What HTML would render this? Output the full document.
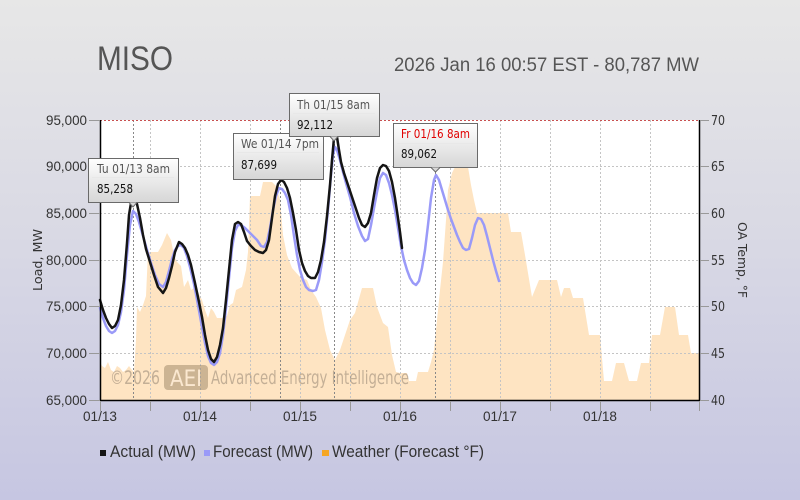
<!DOCTYPE html>
<html><head><meta charset="utf-8"><style>
html,body{margin:0;padding:0;width:800px;height:500px;overflow:hidden;}
svg{display:block;}
</style></head><body>
<svg width="800" height="500" viewBox="0 0 800 500" xmlns="http://www.w3.org/2000/svg">
<defs>
<linearGradient id="bg" x1="0" y1="0" x2="0" y2="1">
<stop offset="0" stop-color="#e7e7e7"/>
<stop offset="0.5" stop-color="#d8d8e4"/>
<stop offset="1" stop-color="#c6c6e2"/>
</linearGradient>
<linearGradient id="tt" x1="0" y1="0" x2="0" y2="1">
<stop offset="0" stop-color="#ffffff"/>
<stop offset="1" stop-color="#d6d6d6"/>
</linearGradient>
</defs>
<rect x="0" y="0" width="800" height="500" fill="url(#bg)"/>

<!-- Title -->
<text x="97" y="70" font-family="Liberation Sans Narrow, Liberation Sans, sans-serif" font-size="34" fill="#555" textLength="76" lengthAdjust="spacingAndGlyphs">MISO</text>
<text x="394" y="71" font-family="Liberation Sans Narrow, Liberation Sans, sans-serif" font-size="19" fill="#555" textLength="305" lengthAdjust="spacingAndGlyphs">2026 Jan 16 00:57 EST - 80,787 MW</text>

<!-- plot bg -->
<rect x="100" y="120" width="600" height="280" fill="#ffffff"/>

<!-- weather fill -->
<polygon fill="#fee4c2" points="100,400 100,362 102,366 105,368 108,362 111,370 114,372 117,366 120,368 123,372 126,370 129,366 132,370 134,372 136,340 137,307 140,312 143,305 146,296 148,252 158,252 162,245 167,233 171,240 174,255 177,262 181,266 184,287 188,280 191,290 194,288 198,292 202,300 205,310 208,318 211,308 214,312 217,318 222,318 227,316 230,305 233,303 236,290 242,287 246,270 248,252 250,196 260,196 263,182 272,182 276,186 280,200 283,235 287,255 292,268 300,277 307,280 311,290 316,297 321,308 325,330 330,350 335,360 340,350 345,335 350,320 355,313 362,288 373,288 377,307 383,323 388,327 392,355 396,372 400,373 407,373 409,381 416,381 418,372 428,372 431,362 434,350 437,320 440,290 443,262 446,220 448,190 452,173 455,167 468,167 471,185 474,200 477,213 508,213 511,232 521,232 525,255 532,297 539,280 557,280 561,297 564,288 570,288 573,298 583,298 589,335 600,335 604,381 612,381 616,363 624,363 629,381 637,381 641,363 649,363 652,335 660,335 665,307 675,307 679,335 688,335 691,353 700,353 700,400"/>

<!-- grid -->
<g stroke="#c4c4c4" stroke-width="1" stroke-dasharray="2,2" fill="none">
<line x1="100" y1="166.5" x2="700" y2="166.5"/>
<line x1="100" y1="213.5" x2="700" y2="213.5"/>
<line x1="100" y1="260.5" x2="700" y2="260.5"/>
<line x1="100" y1="306.5" x2="700" y2="306.5"/>
<line x1="100" y1="353.5" x2="700" y2="353.5"/>
<line x1="150.5" y1="120" x2="150.5" y2="400"/>
<line x1="200.5" y1="120" x2="200.5" y2="400"/>
<line x1="250.5" y1="120" x2="250.5" y2="400"/>
<line x1="300.5" y1="120" x2="300.5" y2="400"/>
<line x1="350.5" y1="120" x2="350.5" y2="400"/>
<line x1="400.5" y1="120" x2="400.5" y2="400"/>
<line x1="450.5" y1="120" x2="450.5" y2="400"/>
<line x1="500.5" y1="120" x2="500.5" y2="400"/>
<line x1="550.5" y1="120" x2="550.5" y2="400"/>
<line x1="600.5" y1="120" x2="600.5" y2="400"/>
<line x1="650.5" y1="120" x2="650.5" y2="400"/>
</g>
<!-- crosshairs -->
<g stroke="#888" stroke-width="1" stroke-dasharray="2,2" fill="none">
<line x1="133.5" y1="120" x2="133.5" y2="400"/>
<line x1="280.5" y1="120" x2="280.5" y2="400"/>
<line x1="334.5" y1="120" x2="334.5" y2="400"/>
<line x1="435.5" y1="120" x2="435.5" y2="400"/>
</g>
<!-- top red dotted -->
<line x1="100" y1="120.5" x2="700" y2="120.5" stroke="#c85050" stroke-width="1" stroke-dasharray="2,2"/>

<!-- watermark -->
<g font-family="DejaVu Sans, Liberation Sans, sans-serif" opacity="0.9">
<text x="110" y="384" font-size="19" fill="#6e6256" fill-opacity="0.45" textLength="50" lengthAdjust="spacingAndGlyphs">©2026</text>
<rect x="164" y="365" width="44" height="25" rx="4" fill="#7a6446" fill-opacity="0.42"/>
<text x="170" y="386" font-size="22" fill="#fbe9d2" textLength="32" lengthAdjust="spacingAndGlyphs">AEI</text>
<text x="211" y="384" font-size="19" fill="#6e6256" fill-opacity="0.45" textLength="198" lengthAdjust="spacingAndGlyphs">Advanced Energy Intelligence</text>
</g>

<!-- forecast -->
<polyline fill="none" stroke="#9a9af8" stroke-width="2.5" stroke-linejoin="round" stroke-linecap="round" points="100,308 103,318 106,326 109,331 112,333 115,331 118,325 121,312 124,290 127,255 130,225 133,211 136,214 139,222 143,236 147,250 151,263 155,275 159,284 163,287 166,282 169,271 172,259 175,250 178,246 181,245 184,248 187,256 190,267 194,284 198,305 202,327 205,343 208,356 211,363 214,365 217,362 220,353 223,335 226,308 229,278 232,248 235,231 238,225 241,225 245,228 249,232 253,236 257,240 261,246 264,247 267,242 270,228 273,210 276,196 279,188 282,189 285,193 288,200 291,215 294,236 297,255 300,270 303,280 306,287 309,290 313,291 316,290 319,280 322,262 325,240 328,210 331,175 333,155 335,147 337,150 340,160 343,172 346,183 350,197 354,213 358,226 362,236 365,241 368,239 371,225 374,208 377,192 380,178 383,173 386,175 389,183 392,195 395,210 398,228 401,246 404,260 407,270 410,278 413,283 416,285 419,281 422,268 425,250 428,225 431,198 434,180 436,175 439,180 442,190 445,200 448,210 451,219 454,227 457,235 460,242 463,248 466,250 469,249 472,238 475,225 478,218 481,219 484,225 487,236 490,248 493,260 496,271 499,281"/>

<!-- actual -->
<polyline fill="none" stroke="#151515" stroke-width="2.5" stroke-linejoin="round" stroke-linecap="round" points="100,300 103,310 106,318 109,324 112,328 115,326 118,320 121,305 124,280 127,243 129,215 131,203 134,198 137,204 140,218 143,235 146,249 150,262 154,275 158,287 163,293 166,288 169,278 172,266 175,252 179,242 182,244 185,248 188,255 191,265 195,283 199,302 202,317 205,335 208,350 211,359 214,362 217,357 220,345 223,328 226,300 229,270 232,240 235,224 238,222 241,224 244,232 247,241 251,246 255,250 259,252 263,253 266,250 269,240 272,218 275,196 278,184 281,180 284,182 287,188 290,198 293,213 296,230 299,250 302,263 305,271 308,276 311,278 315,278 318,272 321,260 324,242 327,216 330,185 332,160 334,138 335,131 337,137 339,150 341,162 344,173 347,182 350,191 353,200 356,209 359,218 362,225 365,227 368,223 371,213 374,195 377,178 380,168 383,165 386,166 389,171 392,182 395,198 398,218 400,232 402,248"/>

<!-- axes -->
<g stroke="#000" stroke-width="1.5">
<line x1="100.5" y1="120" x2="100.5" y2="401"/>
<line x1="699.5" y1="120" x2="699.5" y2="401"/>
<line x1="100" y1="400.5" x2="700" y2="400.5"/>
</g>
<g stroke="#999" stroke-width="1">
<line x1="89" y1="120.5" x2="100" y2="120.5"/>
<line x1="89" y1="166.5" x2="100" y2="166.5"/>
<line x1="89" y1="213.5" x2="100" y2="213.5"/>
<line x1="89" y1="260.5" x2="100" y2="260.5"/>
<line x1="89" y1="306.5" x2="100" y2="306.5"/>
<line x1="89" y1="353.5" x2="100" y2="353.5"/>
<line x1="89" y1="400.5" x2="100" y2="400.5"/>
<line x1="700" y1="120.5" x2="709" y2="120.5"/>
<line x1="700" y1="166.5" x2="709" y2="166.5"/>
<line x1="700" y1="213.5" x2="709" y2="213.5"/>
<line x1="700" y1="260.5" x2="709" y2="260.5"/>
<line x1="700" y1="306.5" x2="709" y2="306.5"/>
<line x1="700" y1="353.5" x2="709" y2="353.5"/>
<line x1="700" y1="400.5" x2="709" y2="400.5"/>
<line x1="100.5" y1="401" x2="100.5" y2="411"/>
<line x1="150.5" y1="401" x2="150.5" y2="411"/>
<line x1="200.5" y1="401" x2="200.5" y2="411"/>
<line x1="250.5" y1="401" x2="250.5" y2="411"/>
<line x1="300.5" y1="401" x2="300.5" y2="411"/>
<line x1="350.5" y1="401" x2="350.5" y2="411"/>
<line x1="400.5" y1="401" x2="400.5" y2="411"/>
<line x1="450.5" y1="401" x2="450.5" y2="411"/>
<line x1="500.5" y1="401" x2="500.5" y2="411"/>
<line x1="550.5" y1="401" x2="550.5" y2="411"/>
<line x1="600.5" y1="401" x2="600.5" y2="411"/>
<line x1="650.5" y1="401" x2="650.5" y2="411"/>
<line x1="699.5" y1="401" x2="699.5" y2="411"/>
</g>

<!-- left labels -->
<g font-family="Liberation Sans Narrow, Liberation Sans, sans-serif" font-size="14" fill="#333">
<text x="46" y="125" textLength="41" lengthAdjust="spacingAndGlyphs">95,000</text>
<text x="46" y="171" textLength="41" lengthAdjust="spacingAndGlyphs">90,000</text>
<text x="46" y="218" textLength="41" lengthAdjust="spacingAndGlyphs">85,000</text>
<text x="46" y="265" textLength="41" lengthAdjust="spacingAndGlyphs">80,000</text>
<text x="46" y="311" textLength="41" lengthAdjust="spacingAndGlyphs">75,000</text>
<text x="46" y="358" textLength="41" lengthAdjust="spacingAndGlyphs">70,000</text>
<text x="46" y="405" textLength="41" lengthAdjust="spacingAndGlyphs">65,000</text>
</g>
<g font-family="DejaVu Sans, Liberation Sans, sans-serif" font-size="13" fill="#333">
<text x="711" y="125" textLength="14" lengthAdjust="spacingAndGlyphs">70</text>
<text x="711" y="171" textLength="14" lengthAdjust="spacingAndGlyphs">65</text>
<text x="711" y="218" textLength="14" lengthAdjust="spacingAndGlyphs">60</text>
<text x="711" y="265" textLength="14" lengthAdjust="spacingAndGlyphs">55</text>
<text x="711" y="311" textLength="14" lengthAdjust="spacingAndGlyphs">50</text>
<text x="711" y="358" textLength="14" lengthAdjust="spacingAndGlyphs">45</text>
<text x="711" y="405" textLength="14" lengthAdjust="spacingAndGlyphs">40</text>
</g>
<g font-family="Liberation Sans Narrow, Liberation Sans, sans-serif" font-size="14" fill="#333">
<text x="83" y="421" textLength="34" lengthAdjust="spacingAndGlyphs">01/13</text>
<text x="183" y="421" textLength="34" lengthAdjust="spacingAndGlyphs">01/14</text>
<text x="283" y="421" textLength="34" lengthAdjust="spacingAndGlyphs">01/15</text>
<text x="383" y="421" textLength="34" lengthAdjust="spacingAndGlyphs">01/16</text>
<text x="483" y="421" textLength="34" lengthAdjust="spacingAndGlyphs">01/17</text>
<text x="583" y="421" textLength="34" lengthAdjust="spacingAndGlyphs">01/18</text>
</g>
<text transform="translate(42,260) rotate(-90)" text-anchor="middle" font-family="DejaVu Sans, Liberation Sans, sans-serif" font-size="12" fill="#333" textLength="62" lengthAdjust="spacingAndGlyphs">Load, MW</text>
<text transform="translate(738,260) rotate(90)" text-anchor="middle" font-family="DejaVu Sans, Liberation Sans, sans-serif" font-size="12" fill="#333" textLength="76" lengthAdjust="spacingAndGlyphs">OA Temp, °F</text>

<!-- tooltips -->
<g font-family="DejaVu Sans, Liberation Sans, sans-serif" font-size="12">
<g>
<rect x="88.5" y="158.5" width="90" height="44" fill="url(#tt)" stroke="#6a6a6a"/>
<path d="M129,202.5 L133,207 L137,202.5" fill="#d8d8d8" stroke="#6a6a6a"/>
<line x1="92" y1="177.5" x2="174" y2="177.5" stroke="#e8e8e8"/>
<text x="97" y="173" fill="#555" textLength="73" lengthAdjust="spacingAndGlyphs">Tu 01/13 8am</text>
<text x="97" y="193" fill="#111" textLength="36" lengthAdjust="spacingAndGlyphs">85,258</text>
</g>
<g>
<rect x="233.5" y="133.5" width="90" height="46" fill="url(#tt)" stroke="#6a6a6a"/>
<line x1="237" y1="152.5" x2="319" y2="152.5" stroke="#e8e8e8"/>
<text x="241" y="148" fill="#555" textLength="78" lengthAdjust="spacingAndGlyphs">We 01/14 7pm</text>
<text x="241" y="169" fill="#111" textLength="36" lengthAdjust="spacingAndGlyphs">87,699</text>
</g>
<g>
<rect x="289.5" y="93.5" width="90" height="43" fill="url(#tt)" stroke="#6a6a6a"/>
<path d="M330,136.5 L334,141 L338,136.5" fill="#d8d8d8" stroke="#6a6a6a"/>
<line x1="293" y1="113.5" x2="375" y2="113.5" stroke="#e8e8e8"/>
<text x="297" y="109" fill="#555" textLength="73" lengthAdjust="spacingAndGlyphs">Th 01/15 8am</text>
<text x="297" y="129" fill="#111" textLength="36" lengthAdjust="spacingAndGlyphs">92,112</text>
</g>
<g>
<rect x="393.5" y="123.5" width="84" height="44" fill="url(#tt)" stroke="#6a6a6a"/>
<path d="M431,167.5 L435.5,172 L440,167.5" fill="#d8d8d8" stroke="#6a6a6a"/>
<line x1="397" y1="143.5" x2="474" y2="143.5" stroke="#e8e8e8"/>
<text x="401" y="138" fill="#e00000" textLength="69" lengthAdjust="spacingAndGlyphs">Fr 01/16 8am</text>
<text x="401" y="158" fill="#111" textLength="36" lengthAdjust="spacingAndGlyphs">89,062</text>
</g>
</g>

<!-- legend -->
<rect x="100" y="450" width="6" height="6" fill="#151515"/>
<rect x="204" y="450" width="6" height="6" fill="#9a9af8"/>
<rect x="322" y="450" width="7" height="6" fill="#f5a623"/>
<g font-family="Liberation Sans Narrow, Liberation Sans, sans-serif" font-size="17" fill="#333">
<text x="110" y="457" textLength="86" lengthAdjust="spacingAndGlyphs">Actual (MW)</text>
<text x="213" y="457" textLength="100" lengthAdjust="spacingAndGlyphs">Forecast (MW)</text>
<text x="332" y="457" textLength="152" lengthAdjust="spacingAndGlyphs">Weather (Forecast °F)</text>
</g>
</svg>
</body></html>
